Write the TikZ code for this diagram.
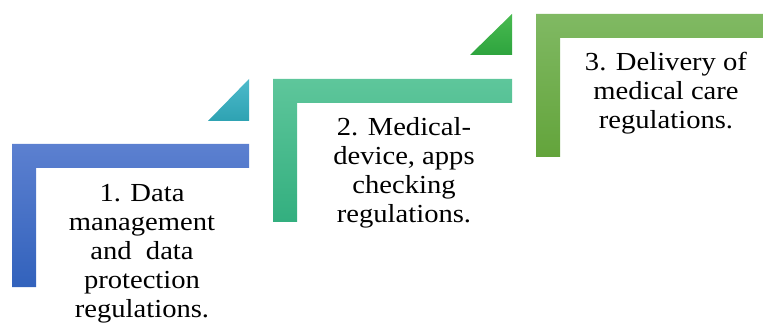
\documentclass[tikz,border=0pt]{standalone}
\usepackage{fontspec}
\setmainfont{Liberation Serif}[FakeStretch=1.1]
\newcommand{\steplines}[1]{\begin{tabular}[t]{@{}c@{}}#1\end{tabular}}
\begin{document}
\begin{tikzpicture}[x=1pt,y=-1pt]
\definecolor{bluetop}{HTML}{5C80D0}
\definecolor{bluebot}{HTML}{3262BC}
\definecolor{tealtop}{HTML}{4DBACB}
\definecolor{tealbot}{HTML}{2EA2B2}
\definecolor{mintop}{HTML}{5EC69B}
\definecolor{minbot}{HTML}{33AF7F}
\definecolor{grtop}{HTML}{48BA50}
\definecolor{grbot}{HTML}{2EA43E}
\definecolor{oltop}{HTML}{80B963}
\definecolor{olbot}{HTML}{63A43B}
\tikzset{
  stepfont/.style={font=\fontsize{26}{28.8}\selectfont, anchor=base, inner sep=0pt},
}
\useasboundingbox (0,0) rectangle (763,323);
\clip (0,0) rectangle (763,323);
% L shapes
\shade[top color=bluetop, bottom color=bluebot]
  (12,144) -- (249,144) -- (249,168) -- (36,168) -- (36,287) -- (12,287) -- cycle;
\shade[top color=mintop, bottom color=minbot]
  (273,79) -- (512,79) -- (512,103) -- (297,103) -- (297,222) -- (273,222) -- cycle;
\shade[top color=oltop, bottom color=olbot]
  (536,14) -- (775,14) -- (775,38) -- (560,38) -- (560,157) -- (536,157) -- cycle;
% triangles
\shade[top color=tealtop, bottom color=tealbot]
  (249,79) -- (249,121) -- (208,121) -- cycle;
\shade[top color=grtop, bottom color=grbot]
  (512,14) -- (512,55) -- (470,55) -- cycle;
% texts
\node[stepfont] (t1) at (142,202) {\steplines{1. Data\\management\\and\ \ data\\protection\\regulations.}};
\node[stepfont] (t2) at (404,136) {\steplines{2. Medical-\\device, apps\\checking\\regulations.}};
\node[stepfont] (t3) at (666,71) {\steplines{3. Delivery of\\medical care\\regulations.}};
\end{tikzpicture}
\end{document}
